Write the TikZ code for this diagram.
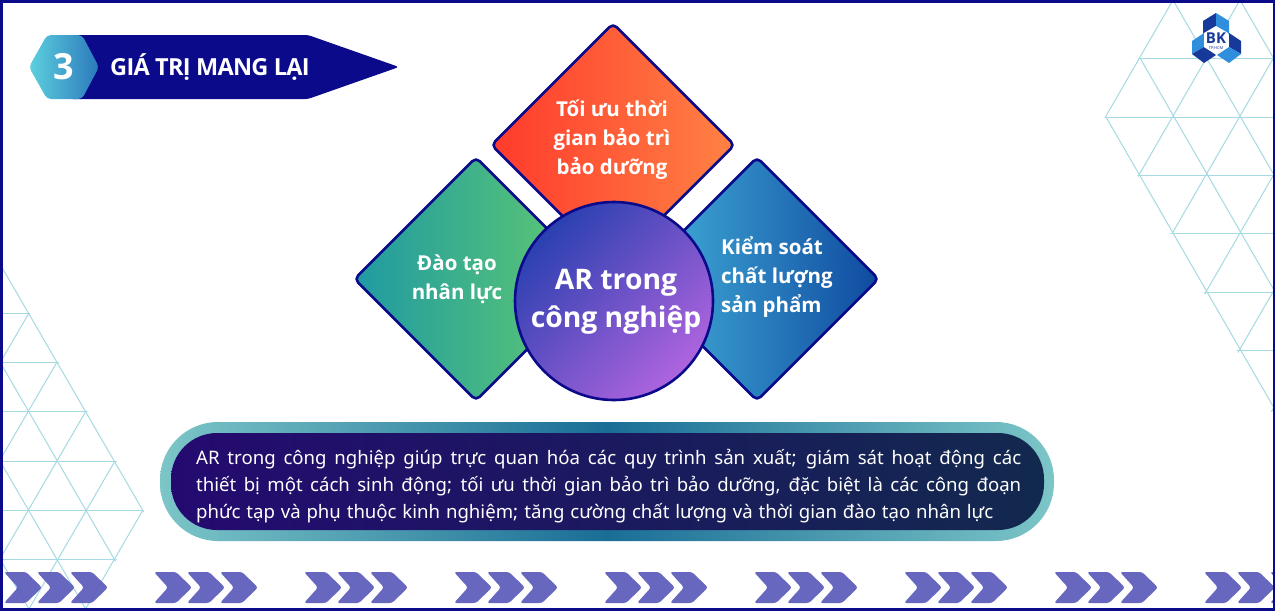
\documentclass[tikz,border=0pt]{standalone}
\usepackage{fontspec}
\setmainfont{Noto Sans}
\newfontfamily\heavy{Open Sans}[BoldFont={Open Sans Bold}]
\usetikzlibrary{shapes.geometric}
\definecolor{navy}{HTML}{0A0A8A}
\definecolor{gridline}{HTML}{A6DAE2}
\definecolor{chev}{HTML}{5C5CBC}
\definecolor{logodark}{HTML}{17399A}
\definecolor{logolight}{HTML}{2F8FDD}
\definecolor{hexa}{HTML}{5DD0DF}
\definecolor{hexb}{HTML}{2B79BC}
\definecolor{reda}{HTML}{FF3A2C}
\definecolor{redb}{HTML}{FF8244}
\definecolor{grea}{HTML}{1F9AA2}
\definecolor{greb}{HTML}{64CC6E}
\definecolor{blua}{HTML}{45B4DC}
\definecolor{blub}{HTML}{0F4AA0}
\definecolor{huba}{HTML}{2A40B0}
\definecolor{hubb}{HTML}{AE64DE}
\definecolor{pilla}{HTML}{7CC6C8}
\definecolor{pillb}{HTML}{1A6E96}
\definecolor{inna}{HTML}{240A70}
\definecolor{innb}{HTML}{12294E}
\tikzset{
  gridstroke/.style={draw=gridline,line width=1pt},
  chevshape/.style={fill=chev,fill opacity=0.93,rounded corners=2.5pt},
  petal/.style={diamond,aspect=1,draw=navy,line width=2.6pt,rounded corners=5pt,inner sep=0pt,minimum width=244pt,minimum height=244pt},
  petaltext/.style={text=white,font=\heavy\fontsize{20.5}{29}\selectfont\bfseries,inner sep=0pt},
  bodyline/.style={text=white,inner sep=0pt,anchor=west,font=\fontsize{18.6}{24}\selectfont}
}
\newcommand{\chevgroup}[1]{%
  \foreach \d in {0,33,66}{
    \path[chevshape,shift={(#1+\d,0)}] (4,572)--(26,572)--(42,587.5)--(26,603)--(4,603)--(18,587.5)--cycle;
  }}
\begin{document}
\begin{tikzpicture}[x=1pt,y=-1pt]
\useasboundingbox (0,0) rectangle (1275,611);
\fill[white] (0,0) rectangle (1275,611);
% right triangle lattice
\begin{scope}
\clip (1173,-1)--(1275,-1)--(1275,418)--(1104.5,117)--cycle;
\foreach \y in {58,117,175,233,292,350}{\draw[gridstroke] (1100,\y)--(1275,\y);}
\foreach \x/\y in {1173/0,1240/0,1106/117}{\draw[gridstroke] (\x,\y)--++(201,348);}
\draw[gridstroke] (1140,58)--++(134,232);
\foreach \x/\y in {1173/0,1240/0,1307/0,1307/117,1307/233,1307/350}{\draw[gridstroke] (\x,\y)--++(-134,232);}
\end{scope}
% left triangle lattice
\begin{scope}
\clip (0,262)--(145,510)--(87,611)--(0,611)--cycle;
\foreach \y in {313,362,411,461,510,559}{\draw[gridstroke] (0,\y)--(143,\y);}
\foreach \y in {264,362,461,559}{\draw[gridstroke] (0,\y)--++(200,345);}
\foreach \x/\y in {143/510,115/461,86/411,57/362,29/313}{\draw[gridstroke] (\x,\y)--++(-143,246);}
\end{scope}
% chevrons
\chevgroup{0}\chevgroup{150}\chevgroup{300}\chevgroup{450}\chevgroup{600}\chevgroup{750}\chevgroup{900}\chevgroup{1050}\chevgroup{1200}
% banner
\fill[navy,rounded corners=3pt] (70,35)--(308,35)--(399,67)--(308,99)--(70,99)--cycle;
\shade[left color=hexa,right color=hexb,rounded corners=4pt] (47,35)--(82,35)--(99,67)--(82,99)--(47,99)--(29,67)--cycle;
\node[text=white,font=\heavy\fontsize{36}{36}\selectfont\bfseries,inner sep=0pt] (num) at (64,67) {3};
\node[text=white,font=\heavy\fontsize{23.5}{23.5}\selectfont\bfseries,inner sep=0pt,anchor=west] (title) at (110,67) {\addfontfeature{LetterSpace=-3}GIÁ TRỊ MANG LẠI};
% logo
\fill[logodark] (1216,13)--(1203,21)--(1203,34)--(1216,34)--cycle;
\fill[logolight] (1216,13)--(1229,21)--(1229,34)--(1216,34)--cycle;
\fill[logolight] (1204,33)--(1192,41)--(1192,54)--(1204,47)--cycle;
\fill[logodark] (1192,54)--(1204,63)--(1216,55)--(1204,47)--cycle;
\fill[logodark] (1229,33)--(1241,41)--(1241,54)--(1229,47)--cycle;
\fill[logolight] (1241,54)--(1229,63)--(1217,55)--(1229,47)--cycle;
\fill[white] (1216,26)--(1228,33)--(1228,47)--(1216,54)--(1204,47)--(1204,33)--cycle;
\node[text=logodark,font=\heavy\fontsize{15}{15}\selectfont\bfseries,inner sep=0pt] (bk) at (1216,38.5) {BK};
\node[text=logodark,font=\fontsize{4}{4}\selectfont,inner sep=0pt] (tp) at (1216,48) {TP.HCM};
% diamonds
\node[petal,left color=reda,right color=redb] (top) at (613,145) {};
\node[petal,left color=grea,right color=greb] (left) at (476,279) {};
\node[petal,left color=blua,right color=blub] (right) at (757,279) {};
\node[circle,draw=navy,line width=2.6pt,minimum size=198pt,inner sep=0pt,top color=huba,bottom color=hubb,shading angle=45] (hub) at (614,301) {};
% labels
\node[petaltext,align=center] (t1) at (612,140) {Tối ưu thời\\gian bảo trì\\bảo dưỡng};
\node[petaltext,align=center] (t2) at (457,279) {Đào tạo\\nhân lực};
\node[petaltext,align=left,anchor=west] (t3) at (721,277) {Kiểm soát\\chất lượng\\sản phẩm};
\node[text=white,font=\heavy\fontsize{28.3}{38}\selectfont\bfseries,inner sep=0pt,align=center] (hubtext) at (616,302) {AR trong\\công nghiệp};
% pill
\node[rounded corners=58pt,minimum width=894pt,minimum height=119pt,inner sep=0pt,left color=pilla,right color=pilla,middle color=pillb] (pillout) at (607,481.5) {};
\node[rounded corners=46pt,minimum width=873pt,minimum height=97pt,inner sep=0pt,left color=inna,right color=innb] (pillin) at (607.5,481.5) {};
\node[bodyline] (l1) at (196,459) {\makebox[825pt][s]{AR trong công nghiệp giúp trực quan hóa các quy trình sản xuất; giám sát hoạt động các}};
\node[bodyline] (l2) at (196,486) {\makebox[825pt][s]{thiết bị một cách sinh động; tối ưu thời gian bảo trì bảo dưỡng, đặc biệt là các công đoạn}};
\node[bodyline] (l3) at (196,513) {\makebox[797pt][s]{phức tạp và phụ thuộc kinh nghiệm; tăng cường chất lượng và thời gian đào tạo nhân lực}};
% frame
\draw[navy,line width=3pt] (1,1) rectangle (1274,609.5);
\end{tikzpicture}
\end{document}
